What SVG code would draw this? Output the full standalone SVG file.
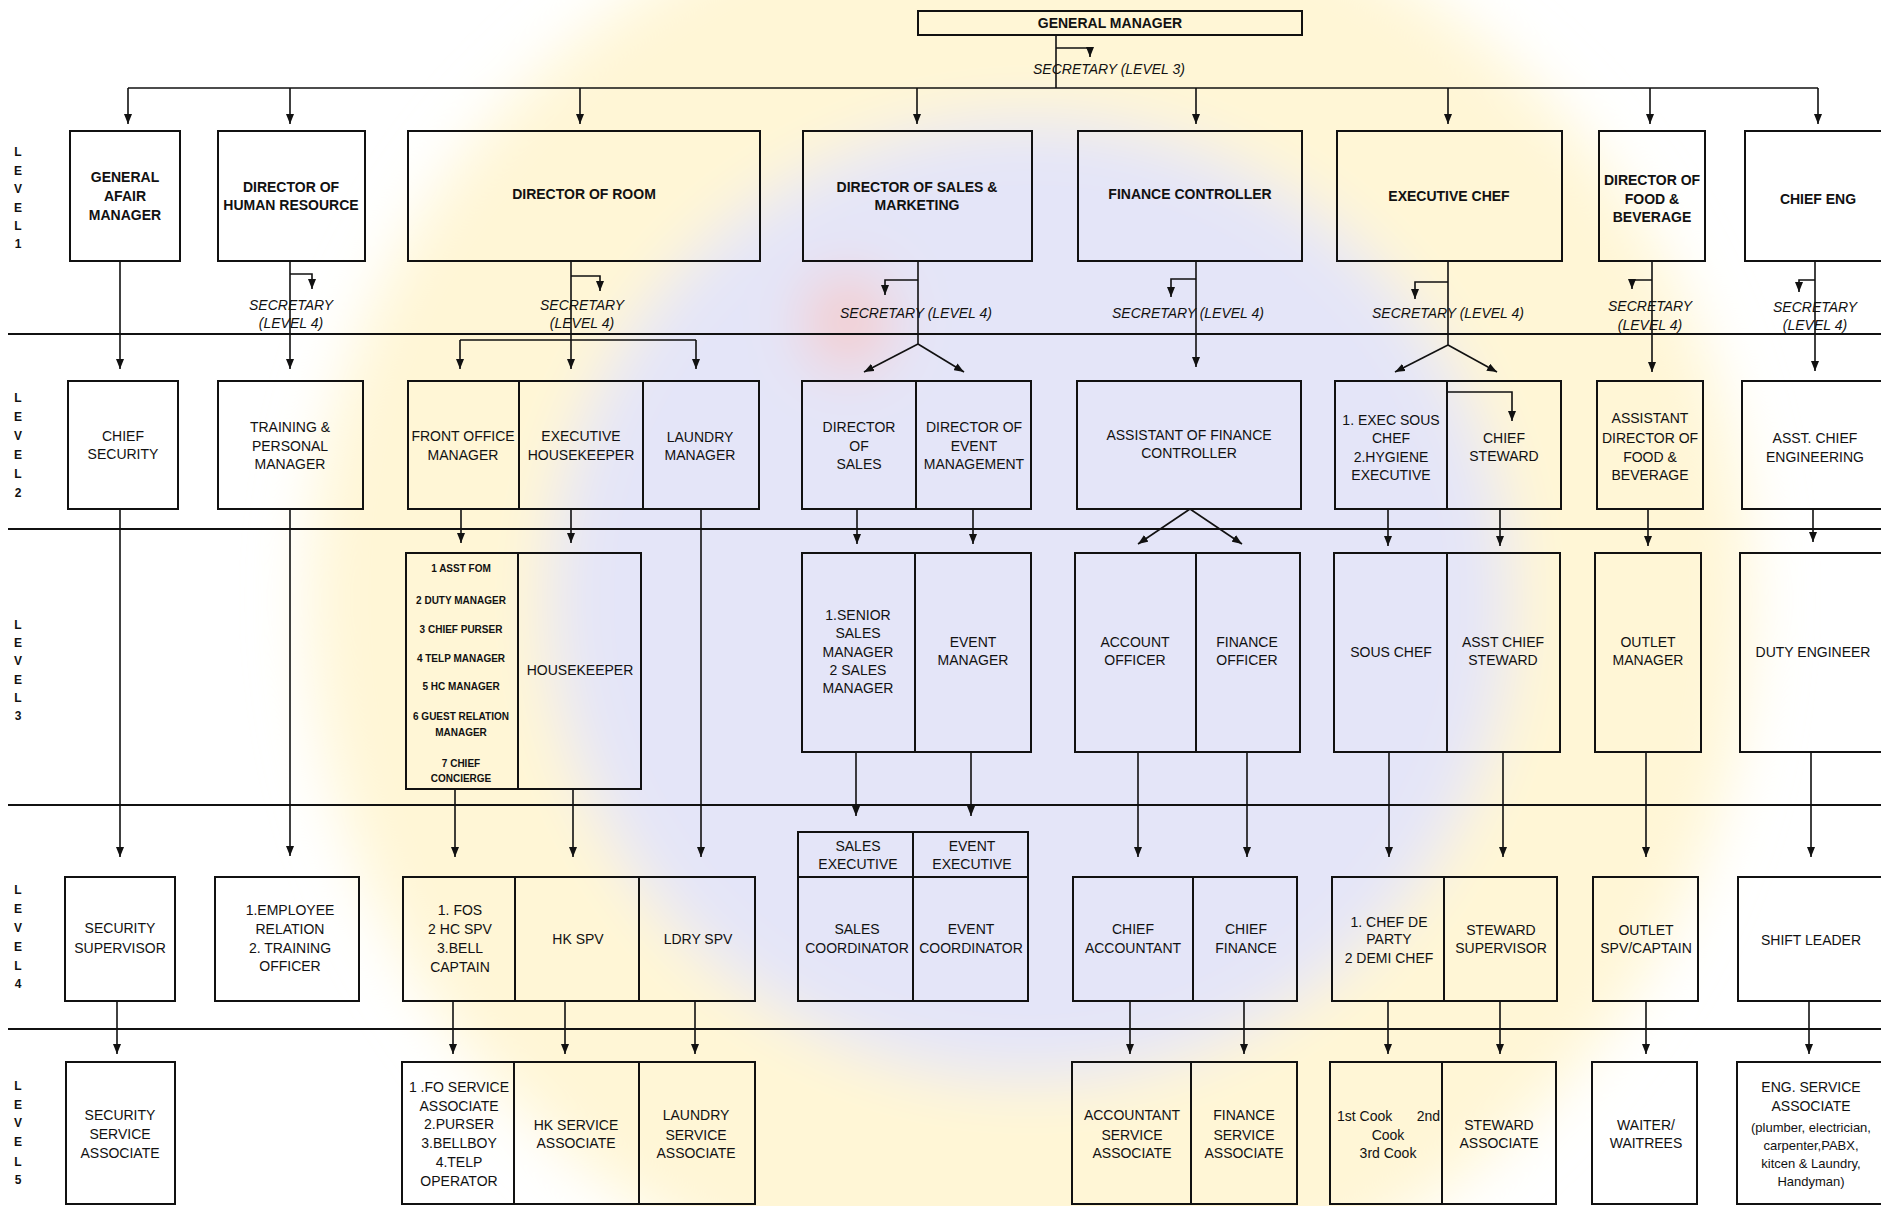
<svg xmlns="http://www.w3.org/2000/svg" width="1881" height="1206" viewBox="0 0 1881 1206">
  <style>
    .box { fill: none; stroke: #111; stroke-width: 2; }
    .sep { stroke: #111; stroke-width: 2.2; fill: none; }
    .con { stroke: #111; stroke-width: 1.6; fill: none; }
    .arr { marker-end: url(#head); }
    text { font-family: "Liberation Sans", Arial, sans-serif; fill: #111; text-anchor: middle; }
    .b { font-weight: bold; font-size: 14px; }
    .r { font-size: 14px; }
    .s { font-size: 13px; }
    .sec { font-size: 14px; font-style: italic; }
    .lst { font-weight: bold; font-size: 10px; }
    .lv { font-weight: bold; font-size: 12px; }
  </style>
  <defs>
    <marker id="head" markerUnits="userSpaceOnUse" markerWidth="10" markerHeight="8" refX="10" refY="4" orient="auto">
      <path d="M0,0 L10,4 L0,8 z" fill="#111"/>
    </marker>
    <filter id="soft" x="-50%" y="-50%" width="200%" height="200%">
      <feGaussianBlur stdDeviation="30"/>
    </filter>
  </defs>

  <rect x="0" y="0" width="1881" height="1206" fill="#fff"/>

  <!-- background seal -->
  <g id="seal" filter="url(#soft)">
    <circle cx="1030" cy="600" r="720" fill="#FFF6D6"/>
    <circle cx="1030" cy="600" r="480" fill="#E4E5F8"/>
    <ellipse cx="848" cy="322" rx="42" ry="48" fill="#F5CACA"/>
  </g>

  <!-- level separators -->
  <g id="separators">
    <path class="sep" d="M8,334 H1881"/>
    <path class="sep" d="M8,529 H1881"/>
    <path class="sep" d="M8,805 H1881"/>
    <path class="sep" d="M8,1029 H1881"/>
  </g>

  <!-- level labels -->
  <g id="level-labels">
    <text class="lv" x="18" y="156">L</text><text class="lv" x="18" y="175">E</text><text class="lv" x="18" y="193">V</text><text class="lv" x="18" y="212">E</text><text class="lv" x="18" y="230">L</text><text class="lv" x="18" y="248">1</text>
    <text class="lv" x="18" y="402">L</text><text class="lv" x="18" y="421">E</text><text class="lv" x="18" y="440">V</text><text class="lv" x="18" y="459">E</text><text class="lv" x="18" y="478">L</text><text class="lv" x="18" y="497">2</text>
    <text class="lv" x="18" y="629">L</text><text class="lv" x="18" y="647">E</text><text class="lv" x="18" y="665">V</text><text class="lv" x="18" y="684">E</text><text class="lv" x="18" y="702">L</text><text class="lv" x="18" y="720">3</text>
    <text class="lv" x="18" y="894">L</text><text class="lv" x="18" y="913">E</text><text class="lv" x="18" y="932">V</text><text class="lv" x="18" y="951">E</text><text class="lv" x="18" y="970">L</text><text class="lv" x="18" y="988">4</text>
    <text class="lv" x="18" y="1090">L</text><text class="lv" x="18" y="1109">E</text><text class="lv" x="18" y="1127">V</text><text class="lv" x="18" y="1146">E</text><text class="lv" x="18" y="1166">L</text><text class="lv" x="18" y="1184">5</text>
  </g>

  <!-- connectors -->
  <g id="connectors">
    <!-- general manager to directors -->
    <path class="con" d="M1056,35 V88"/>
    <path class="con arr" d="M1056,48 H1090 V57"/>
    <path class="con" d="M128,88 H1818"/>
    <path class="con arr" d="M128,88 V124"/>
    <path class="con arr" d="M290,88 V124"/>
    <path class="con arr" d="M580,88 V124"/>
    <path class="con arr" d="M917,88 V124"/>
    <path class="con arr" d="M1196,88 V124"/>
    <path class="con arr" d="M1448,88 V124"/>
    <path class="con arr" d="M1650,88 V124"/>
    <path class="con arr" d="M1818,88 V124"/>

    <!-- level 1 to level 2 -->
    <path class="con arr" d="M120,261 V369"/>
    <path class="con arr" d="M290,261 V369"/>
    <path class="con arr" d="M290,274 H312 V289"/>
    <path class="con arr" d="M571,261 V369"/>
    <path class="con arr" d="M571,276 H600 V291"/>
    <path class="con" d="M460,340 H696"/>
    <path class="con arr" d="M460,340 V369"/>
    <path class="con arr" d="M696,340 V369"/>
    <path class="con" d="M918,261 V344"/>
    <path class="con arr" d="M918,280 H885 V295"/>
    <path class="con arr" d="M918,344 L864,372"/>
    <path class="con arr" d="M918,344 L964,372"/>
    <path class="con arr" d="M1196,261 V367"/>
    <path class="con arr" d="M1196,279 H1171 V297"/>
    <path class="con" d="M1448,261 V345"/>
    <path class="con arr" d="M1448,282 H1415 V299"/>
    <path class="con arr" d="M1448,345 L1395,372"/>
    <path class="con arr" d="M1448,345 L1497,372"/>
    <path class="con arr" d="M1652,261 V372"/>
    <path class="con arr" d="M1652,280 H1632 V289"/>
    <path class="con arr" d="M1815,261 V371"/>
    <path class="con arr" d="M1815,280 H1799 V292"/>
    <path class="con arr" d="M1448,392 H1512 V421"/>

    <!-- level 2 to level 3 -->
    <path class="con arr" d="M120,509 V857"/>
    <path class="con arr" d="M290,509 V856"/>
    <path class="con arr" d="M461,509 V543"/>
    <path class="con arr" d="M571,509 V543"/>
    <path class="con arr" d="M701,509 V857"/>
    <path class="con arr" d="M857,509 V544"/>
    <path class="con arr" d="M973,509 V544"/>
    <path class="con arr" d="M1190,509 L1138,544"/>
    <path class="con arr" d="M1190,509 L1242,544"/>
    <path class="con arr" d="M1388,509 V546"/>
    <path class="con arr" d="M1500,509 V546"/>
    <path class="con arr" d="M1648,509 V546"/>
    <path class="con arr" d="M1813,509 V542"/>

    <!-- level 3 to level 4 -->
    <path class="con arr" d="M455,789 V857"/>
    <path class="con arr" d="M573,789 V857"/>
    <path class="con arr" d="M856,752 V816"/>
    <path class="con arr" d="M971,752 V816"/>
    <path class="con arr" d="M1138,752 V857"/>
    <path class="con arr" d="M1247,752 V857"/>
    <path class="con arr" d="M1389,752 V857"/>
    <path class="con arr" d="M1503,752 V857"/>
    <path class="con arr" d="M1646,752 V857"/>
    <path class="con arr" d="M1811,752 V857"/>

    <!-- level 4 to level 5 -->
    <path class="con arr" d="M117,1001 V1054"/>
    <path class="con arr" d="M453,1001 V1054"/>
    <path class="con arr" d="M565,1001 V1054"/>
    <path class="con arr" d="M695,1001 V1054"/>
    <path class="con arr" d="M1130,1001 V1054"/>
    <path class="con arr" d="M1244,1001 V1054"/>
    <path class="con arr" d="M1388,1001 V1054"/>
    <path class="con arr" d="M1500,1001 V1054"/>
    <path class="con arr" d="M1646,1001 V1054"/>
    <path class="con arr" d="M1809,1001 V1054"/>
  </g>

  <!-- secretaries -->
  <g id="secretaries">
    <text class="sec" x="1109" y="74">SECRETARY (LEVEL 3)</text>
    <text class="sec" x="291" y="310">SECRETARY</text><text class="sec" x="291" y="328">(LEVEL 4)</text>
    <text class="sec" x="582" y="310">SECRETARY</text><text class="sec" x="582" y="328">(LEVEL 4)</text>
    <text class="sec" x="916" y="318">SECRETARY (LEVEL 4)</text>
    <text class="sec" x="1188" y="318">SECRETARY (LEVEL 4)</text>
    <text class="sec" x="1448" y="318">SECRETARY (LEVEL 4)</text>
    <text class="sec" x="1650" y="311">SECRETARY</text><text class="sec" x="1650" y="330">(LEVEL 4)</text>
    <text class="sec" x="1815" y="312">SECRETARY</text><text class="sec" x="1815" y="330">(LEVEL 4)</text>
  </g>

  <!-- top -->
  <g id="general-manager">
    <rect class="box" x="918" y="11" width="384" height="24"/>
    <text class="b" x="1110" y="28">GENERAL MANAGER</text>
  </g>

  <!-- level 1 -->
  <g id="general-afair-manager">
    <rect class="box" x="70" y="131" width="110" height="130"/>
    <text class="b" x="125" y="182">GENERAL</text><text class="b" x="125" y="201">AFAIR</text><text class="b" x="125" y="220">MANAGER</text>
  </g>
  <g id="director-hr">
    <rect class="box" x="218" y="131" width="147" height="130"/>
    <text class="b" x="291" y="192">DIRECTOR OF</text><text class="b" x="291" y="210">HUMAN RESOURCE</text>
  </g>
  <g id="director-room">
    <rect class="box" x="408" y="131" width="352" height="130"/>
    <text class="b" x="584" y="199">DIRECTOR OF ROOM</text>
  </g>
  <g id="director-sales-marketing">
    <rect class="box" x="803" y="131" width="229" height="130"/>
    <text class="b" x="917" y="192">DIRECTOR OF SALES &amp;</text><text class="b" x="917" y="210">MARKETING</text>
  </g>
  <g id="finance-controller">
    <rect class="box" x="1078" y="131" width="224" height="130"/>
    <text class="b" x="1190" y="199">FINANCE CONTROLLER</text>
  </g>
  <g id="executive-chef">
    <rect class="box" x="1337" y="131" width="225" height="130"/>
    <text class="b" x="1449" y="201">EXECUTIVE CHEF</text>
  </g>
  <g id="director-fb">
    <rect class="box" x="1599" y="131" width="106" height="130"/>
    <text class="b" x="1652" y="185">DIRECTOR OF</text><text class="b" x="1652" y="204">FOOD &amp;</text><text class="b" x="1652" y="222">BEVERAGE</text>
  </g>
  <g id="chief-eng">
    <rect class="box" x="1745" y="131" width="150" height="130"/>
    <text class="b" x="1818" y="204">CHIEF ENG</text>
  </g>

  <!-- level 2 -->
  <g id="chief-security">
    <rect class="box" x="68" y="381" width="110" height="128"/>
    <text class="r" x="123" y="441">CHIEF</text><text class="r" x="123" y="459">SECURITY</text>
  </g>
  <g id="training-personal-manager">
    <rect class="box" x="218" y="381" width="145" height="128"/>
    <text class="r" x="290" y="432">TRAINING &amp;</text><text class="r" x="290" y="451">PERSONAL</text><text class="r" x="290" y="469">MANAGER</text>
  </g>
  <g id="front-office-manager">
    <rect class="box" x="408" y="381" width="111" height="128"/>
    <text class="r" x="463" y="441">FRONT OFFICE</text><text class="r" x="463" y="460">MANAGER</text>
  </g>
  <g id="executive-housekeeper">
    <rect class="box" x="519" y="381" width="124" height="128"/>
    <text class="r" x="581" y="441">EXECUTIVE</text><text class="r" x="581" y="460">HOUSEKEEPER</text>
  </g>
  <g id="laundry-manager">
    <rect class="box" x="643" y="381" width="116" height="128"/>
    <text class="r" x="700" y="442">LAUNDRY</text><text class="r" x="700" y="460">MANAGER</text>
  </g>
  <g id="director-of-sales">
    <rect class="box" x="802" y="381" width="114" height="128"/>
    <text class="r" x="859" y="432">DIRECTOR</text><text class="r" x="859" y="451">OF</text><text class="r" x="859" y="469">SALES</text>
  </g>
  <g id="director-event-management">
    <rect class="box" x="916" y="381" width="115" height="128"/>
    <text class="r" x="974" y="432">DIRECTOR OF</text><text class="r" x="974" y="451">EVENT</text><text class="r" x="974" y="469">MANAGEMENT</text>
  </g>
  <g id="assistant-finance-controller">
    <rect class="box" x="1077" y="381" width="224" height="128"/>
    <text class="r" x="1189" y="440">ASSISTANT OF FINANCE</text><text class="r" x="1189" y="458">CONTROLLER</text>
  </g>
  <g id="exec-sous-chef">
    <rect class="box" x="1335" y="381" width="112" height="128"/>
    <text class="r" x="1391" y="425">1. EXEC  SOUS</text><text class="r" x="1391" y="443">CHEF</text><text class="r" x="1391" y="462">2.HYGIENE</text><text class="r" x="1391" y="480">EXECUTIVE</text>
  </g>
  <g id="chief-steward">
    <rect class="box" x="1447" y="381" width="114" height="128"/>
    <text class="r" x="1504" y="443">CHIEF</text><text class="r" x="1504" y="461">STEWARD</text>
  </g>
  <g id="assistant-director-fb">
    <rect class="box" x="1597" y="381" width="106" height="128"/>
    <text class="r" x="1650" y="423">ASSISTANT</text><text class="r" x="1650" y="443">DIRECTOR OF</text><text class="r" x="1650" y="462">FOOD &amp;</text><text class="r" x="1650" y="480">BEVERAGE</text>
  </g>
  <g id="asst-chief-engineering">
    <rect class="box" x="1742" y="381" width="150" height="128"/>
    <text class="r" x="1815" y="443">ASST. CHIEF</text><text class="r" x="1815" y="462">ENGINEERING</text>
  </g>

  <!-- level 3 -->
  <g id="front-office-staff">
    <rect class="box" x="406" y="553" width="112" height="236"/>
    <text class="lst" x="461" y="572">1 ASST FOM</text>
    <text class="lst" x="461" y="604">2 DUTY MANAGER</text>
    <text class="lst" x="461" y="633">3 CHIEF PURSER</text>
    <text class="lst" x="461" y="662">4 TELP MANAGER</text>
    <text class="lst" x="461" y="690">5 HC MANAGER</text>
    <text class="lst" x="461" y="720">6 GUEST RELATION</text>
    <text class="lst" x="461" y="736">MANAGER</text>
    <text class="lst" x="461" y="767">7 CHIEF</text>
    <text class="lst" x="461" y="782">CONCIERGE</text>
  </g>
  <g id="housekeeper">
    <rect class="box" x="518" y="553" width="123" height="236"/>
    <text class="r" x="580" y="675">HOUSEKEEPER</text>
  </g>
  <g id="sales-managers">
    <rect class="box" x="802" y="553" width="113" height="199"/>
    <text class="r" x="858" y="620">1.SENIOR</text><text class="r" x="858" y="638">SALES</text><text class="r" x="858" y="657">MANAGER</text><text class="r" x="858" y="675">2 SALES</text><text class="r" x="858" y="693">MANAGER</text>
  </g>
  <g id="event-manager">
    <rect class="box" x="915" y="553" width="116" height="199"/>
    <text class="r" x="973" y="647">EVENT</text><text class="r" x="973" y="665">MANAGER</text>
  </g>
  <g id="account-officer">
    <rect class="box" x="1075" y="553" width="121" height="199"/>
    <text class="r" x="1135" y="647">ACCOUNT</text><text class="r" x="1135" y="665">OFFICER</text>
  </g>
  <g id="finance-officer">
    <rect class="box" x="1196" y="553" width="104" height="199"/>
    <text class="r" x="1247" y="647">FINANCE</text><text class="r" x="1247" y="665">OFFICER</text>
  </g>
  <g id="sous-chef">
    <rect class="box" x="1334" y="553" width="113" height="199"/>
    <text class="r" x="1391" y="657">SOUS CHEF</text>
  </g>
  <g id="asst-chief-steward">
    <rect class="box" x="1447" y="553" width="113" height="199"/>
    <text class="r" x="1503" y="647">ASST CHIEF</text><text class="r" x="1503" y="665">STEWARD</text>
  </g>
  <g id="outlet-manager">
    <rect class="box" x="1595" y="553" width="106" height="199"/>
    <text class="r" x="1648" y="647">OUTLET</text><text class="r" x="1648" y="665">MANAGER</text>
  </g>
  <g id="duty-engineer">
    <rect class="box" x="1740" y="553" width="152" height="199"/>
    <text class="r" x="1813" y="657">DUTY ENGINEER</text>
  </g>

  <!-- level 4 -->
  <g id="security-supervisor">
    <rect class="box" x="65" y="877" width="110" height="124"/>
    <text class="r" x="120" y="933">SECURITY</text><text class="r" x="120" y="953">SUPERVISOR</text>
  </g>
  <g id="employee-relation">
    <rect class="box" x="215" y="877" width="144" height="124"/>
    <text class="r" x="290" y="915">1.EMPLOYEE</text><text class="r" x="290" y="934">RELATION</text><text class="r" x="290" y="953">2. TRAINING</text><text class="r" x="290" y="971">OFFICER</text>
  </g>
  <g id="fos">
    <rect class="box" x="403" y="877" width="112" height="124"/>
    <text class="r" x="460" y="915">1. FOS</text><text class="r" x="460" y="934">2 HC SPV</text><text class="r" x="460" y="953">3.BELL</text><text class="r" x="460" y="972">CAPTAIN</text>
  </g>
  <g id="hk-spv">
    <rect class="box" x="515" y="877" width="124" height="124"/>
    <text class="r" x="578" y="944">HK SPV</text>
  </g>
  <g id="ldry-spv">
    <rect class="box" x="639" y="877" width="116" height="124"/>
    <text class="r" x="698" y="944">LDRY SPV</text>
  </g>
  <g id="sales-executive">
    <rect class="box" x="798" y="832" width="115" height="45"/>
    <text class="r" x="858" y="851">SALES</text><text class="r" x="858" y="869">EXECUTIVE</text>
  </g>
  <g id="event-executive">
    <rect class="box" x="913" y="832" width="115" height="45"/>
    <text class="r" x="972" y="851">EVENT</text><text class="r" x="972" y="869">EXECUTIVE</text>
  </g>
  <g id="sales-coordinator">
    <rect class="box" x="798" y="877" width="115" height="124"/>
    <text class="r" x="857" y="934">SALES</text><text class="r" x="857" y="953">COORDINATOR</text>
  </g>
  <g id="event-coordinator">
    <rect class="box" x="913" y="877" width="115" height="124"/>
    <text class="r" x="971" y="934">EVENT</text><text class="r" x="971" y="953">COORDINATOR</text>
  </g>
  <g id="chief-accountant">
    <rect class="box" x="1073" y="877" width="120" height="124"/>
    <text class="r" x="1133" y="934">CHIEF</text><text class="r" x="1133" y="953">ACCOUNTANT</text>
  </g>
  <g id="chief-finance">
    <rect class="box" x="1193" y="877" width="104" height="124"/>
    <text class="r" x="1246" y="934">CHIEF</text><text class="r" x="1246" y="953">FINANCE</text>
  </g>
  <g id="chef-de-party">
    <rect class="box" x="1332" y="877" width="112" height="124"/>
    <text class="r" x="1389" y="927">1. CHEF DE</text><text class="r" x="1389" y="944">PARTY</text><text class="r" x="1389" y="963">2 DEMI CHEF</text>
  </g>
  <g id="steward-supervisor">
    <rect class="box" x="1444" y="877" width="113" height="124"/>
    <text class="r" x="1501" y="935">STEWARD</text><text class="r" x="1501" y="953">SUPERVISOR</text>
  </g>
  <g id="outlet-spv">
    <rect class="box" x="1593" y="877" width="105" height="124"/>
    <text class="r" x="1646" y="935">OUTLET</text><text class="r" x="1646" y="953">SPV/CAPTAIN</text>
  </g>
  <g id="shift-leader">
    <rect class="box" x="1738" y="877" width="154" height="124"/>
    <text class="r" x="1811" y="945">SHIFT LEADER</text>
  </g>

  <!-- level 5 -->
  <g id="security-service-associate">
    <rect class="box" x="66" y="1062" width="109" height="142"/>
    <text class="r" x="120" y="1120">SECURITY</text><text class="r" x="120" y="1139">SERVICE</text><text class="r" x="120" y="1158">ASSOCIATE</text>
  </g>
  <g id="fo-service-associate">
    <rect class="box" x="402" y="1062" width="112" height="142"/>
    <text class="r" x="459" y="1092">1 .FO SERVICE</text><text class="r" x="459" y="1111">ASSOCIATE</text><text class="r" x="459" y="1129">2.PURSER</text><text class="r" x="459" y="1148">3.BELLBOY</text><text class="r" x="459" y="1167">4.TELP</text><text class="r" x="459" y="1186">OPERATOR</text>
  </g>
  <g id="hk-service-associate">
    <rect class="box" x="514" y="1062" width="125" height="142"/>
    <text class="r" x="576" y="1130">HK SERVICE</text><text class="r" x="576" y="1148">ASSOCIATE</text>
  </g>
  <g id="laundry-service-associate">
    <rect class="box" x="639" y="1062" width="116" height="142"/>
    <text class="r" x="696" y="1120">LAUNDRY</text><text class="r" x="696" y="1140">SERVICE</text><text class="r" x="696" y="1158">ASSOCIATE</text>
  </g>
  <g id="accountant-service-associate">
    <rect class="box" x="1072" y="1062" width="119" height="142"/>
    <text class="r" x="1132" y="1120">ACCOUNTANT</text><text class="r" x="1132" y="1140">SERVICE</text><text class="r" x="1132" y="1158">ASSOCIATE</text>
  </g>
  <g id="finance-service-associate">
    <rect class="box" x="1191" y="1062" width="106" height="142"/>
    <text class="r" x="1244" y="1120">FINANCE</text><text class="r" x="1244" y="1140">SERVICE</text><text class="r" x="1244" y="1158">ASSOCIATE</text>
  </g>
  <g id="cooks">
    <rect class="box" x="1330" y="1062" width="112" height="142"/>
    <text class="r" x="1337" y="1121" style="text-anchor:start">1st Cook</text><text class="r" x="1440" y="1121" style="text-anchor:end">2nd</text>
    <text class="r" x="1388" y="1140">Cook</text><text class="r" x="1388" y="1158">3rd Cook</text>
  </g>
  <g id="steward-associate">
    <rect class="box" x="1442" y="1062" width="114" height="142"/>
    <text class="r" x="1499" y="1130">STEWARD</text><text class="r" x="1499" y="1148">ASSOCIATE</text>
  </g>
  <g id="waiter-waitrees">
    <rect class="box" x="1592" y="1062" width="105" height="142"/>
    <text class="r" x="1646" y="1130">WAITER/</text><text class="r" x="1646" y="1148">WAITREES</text>
  </g>
  <g id="eng-service-associate">
    <rect class="box" x="1737" y="1062" width="155" height="142"/>
    <text class="r" x="1811" y="1092">ENG. SERVICE</text><text class="r" x="1811" y="1111">ASSOCIATE</text>
    <text class="s" x="1811" y="1132">(plumber, electrician,</text><text class="s" x="1811" y="1150">carpenter,PABX,</text><text class="s" x="1811" y="1168">kitcen &amp; Laundry,</text><text class="s" x="1811" y="1186">Handyman)</text>
  </g>
</svg>
